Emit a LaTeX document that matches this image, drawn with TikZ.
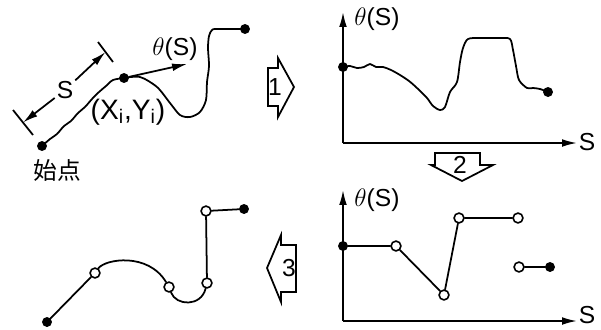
\documentclass[tikz,border=0pt]{standalone}
\usepackage{fontspec}
\setmainfont{Liberation Sans}
\newfontfamily\jpfont{Noto Sans CJK JP}
\usetikzlibrary{arrows.meta, calc}

\begin{document}
\begin{tikzpicture}[
x=0.02cm, y=-0.02cm,
curve/.style={line width=1pt, line join=round, line cap=round},
axis/.style={line width=1pt, -{Latex[length=8.5pt,width=4.4pt]}},
blk/.style={line width=1pt, line join=miter},
fdot/.style={circle, fill, draw, inner sep=0pt, minimum size=5.2pt},
odot/.style={circle, draw, fill=white, line width=0.9pt, inner sep=0pt, minimum size=5.6pt},
lbl/.style={inner sep=1pt, font=\fontsize{14}{16}\selectfont}
]
\useasboundingbox (0,0) rectangle (601,329);

% curve with tangent
\draw[curve] plot[smooth] coordinates {(42,146) (50,139) (57,134) (64,126) (71,121) (78,113) (85,107) (92,99) (99,92) (106,86) (113,80) (124,78)};
\draw[curve] plot[smooth] coordinates {(124,78) (140,77) (157,87) (170,103) (180,115) (190,117) (200,112) (206,100) (207,82) (209,66) (208,48) (209,36) (212,30) (217,29) (245,29)};
\node[fdot] (a0) at (42,146) {};
\node[fdot] (a1) at (124,78) {};
\node[fdot] (a2) at (245,29) {};
\node[lbl, font=\jpfont\fontsize{13.5}{15}\selectfont] (start) at (57,171) {始点};
\node[lbl, font=\fontsize{16}{18}\selectfont] (xy) at (128,112) {(X\textsubscript{i},Y\textsubscript{i})};
\coordinate (tip) at (187,64);
\draw[axis] (a1) -- (tip);
\node[lbl] (tlbl) at (175,49) {$\theta$(S)};

% arc length
\coordinate (tu1) at (98,42);
\coordinate (tu2) at (113,62);
\coordinate (tl1) at (13,110);
\coordinate (tl2) at (33,135);
\draw[line width=1pt] (tu1) -- (tu2);
\draw[line width=1pt] (tl1) -- (tl2);
\node[lbl] (slbl) at (65,90) {S};
\draw[axis] (slbl) -- ($(tu1)!0.5!(tu2)$);
\draw[axis] (slbl) -- ($(tl1)!0.5!(tl2)$);

% step 1
\draw[blk] (278,68) -- (268,68) -- (268,106) -- (278,106) -- (278,117) -- (294,87) -- (278,58) -- cycle;
\node[lbl] (n1) at (275,87) {1};

% theta(s) graph
\coordinate (o1) at (343,143);
\coordinate (y1) at (343,12);
\coordinate (x1) at (577,143);
\draw[axis] (o1) -- (y1);
\draw[axis] (o1) -- (x1);
\node[lbl] (th1) at (377,19) {$\theta$(S)};
\node[lbl] (s1) at (587,142) {S};
\draw[curve] plot[smooth] coordinates {(343,67) (350,66) (357,68) (364,67) (370,64) (376,67) (383,67) (391,70) (400,75) (409,81) (417,88) (427,98) (433,106) (440,110) (445,107) (450,92) (457,82) (460,62) (463,48) (468,39) (480,38) (500,38) (510,39) (513,50) (516,66) (519,80) (527,88) (533,88) (540,89) (548,92)};
\node[fdot] (b0) at (343,67) {};
\node[fdot] (b1) at (548,92) {};

% step 2
\draw[blk] (435,165) -- (435,153) -- (480,153) -- (480,165) -- (493,165) -- (462,181) -- (431,165) -- cycle;
\node[lbl] (n2) at (460,165) {2};

% piecewise graph
\coordinate (o2) at (343,321);
\coordinate (y2) at (343,190);
\coordinate (x2) at (577,321);
\draw[axis] (o2) -- (y2);
\draw[axis] (o2) -- (x2);
\node[lbl] (th2) at (377,200) {$\theta$(S)};
\node[lbl] (s2) at (587,315) {S};
\node[fdot] (p0) at (343,246) {};
\node[odot] (p1) at (396,246) {};
\node[odot] (p2) at (444,295) {};
\node[odot] (p3) at (459,218) {};
\node[odot] (p4) at (518,218) {};
\node[odot] (p5) at (519,267) {};
\node[fdot] (p6) at (550,267) {};
\draw[curve] (p0) -- (p1) -- (p2) -- (p3) -- (p4);
\draw[curve] (p5) -- (p6);

% step 3
\draw[blk] (281,245) -- (296,245) -- (296,292) -- (281,292) -- (281,302) -- (267,268) -- (281,235) -- cycle;
\node[lbl] (n3) at (289,268) {3};

% rebuilt curve
\node[fdot] (q0) at (47,322) {};
\node[odot] (q1) at (95,273) {};
\node[odot] (q2) at (169,287) {};
\node[odot] (q3) at (207,283) {};
\node[odot] (q4) at (206,211) {};
\node[fdot] (q5) at (244,209) {};
\draw[curve] (q0) -- (q1);
\draw[curve] (q1) .. controls (105,259) and (148,252) .. (q2);
\draw[curve] (q2) .. controls (176,306) and (201,307) .. (q3);
\draw[curve] (q3) -- (q4) -- (q5);

\end{tikzpicture}
\end{document}
